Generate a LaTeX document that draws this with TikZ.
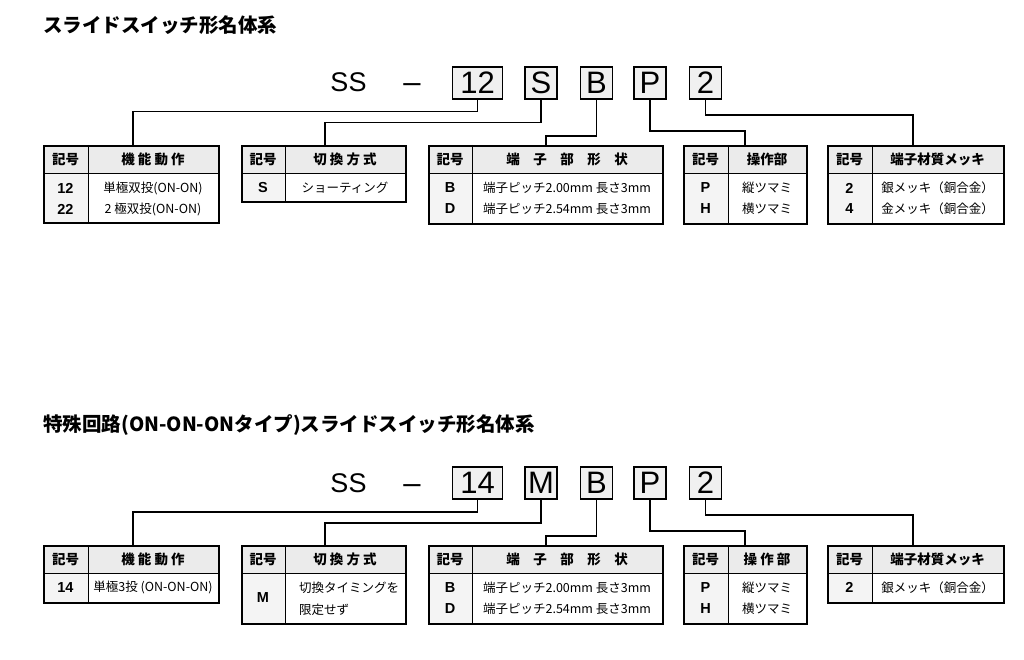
\documentclass[tikz,border=0pt]{standalone}
\usepackage{fontspec}
\setmainfont{Noto Sans CJK JP}
\newfontfamily\codefont{Liberation Sans}
\definecolor{hdgray}{HTML}{EBEBEB}
\definecolor{colgray}{HTML}{F4F4F4}
\definecolor{boxgray}{HTML}{F0F0F0}
\tikzset{
  conn/.style={line width=1.8pt, line join=miter},
  inner/.style={line width=0.8pt},
  tabbox/.style={draw, line width=2pt, inner sep=0pt, anchor=north west},
  codebox/.style={draw, line width=1.8pt, fill=boxgray, inner sep=0pt, minimum height=32pt, font=\codefont\fontsize{31}{31}\selectfont},
  codetext/.style={inner sep=0pt, anchor=base, font=\codefont\fontsize{27}{27}\selectfont},
  dashtext/.style={inner sep=0pt, anchor=base, font=\codefont\fontsize{31}{31}\selectfont},
  title/.style={anchor=west, inner sep=0pt, font=\fontsize{19.5}{19.5}\selectfont\bfseries},
  hd/.style={inner sep=0pt, font=\fontsize{13.5}{13.5}\selectfont\bfseries},
  key/.style={inner sep=0pt, font=\codefont\fontsize{14.5}{14.5}\selectfont\bfseries},
  body/.style={inner sep=0pt, font=\fontsize{12.5}{12.5}\selectfont},
}
% #1 name, #2 x1, #3 x2, #4 divider x, #5 ytop, #6 yhead, #7 ybot
\newcommand\mytab[7]{%
  \fill[hdgray] (#2,#5) rectangle (#3,#6);
  \fill[colgray] (#2,#6) rectangle (#4,#7);
  \draw[inner] (#2,#6) -- (#3,#6);
  \draw[inner] (#4,#5) -- (#4,#7);
  \node[tabbox, minimum width={(#3-#2)*1pt}, minimum height={(#7-#5)*1pt}] (#1) at (#2,#5) {};
}
\begin{document}
\begin{tikzpicture}[x=1pt,y=-1pt]
\useasboundingbox[fill=white] (0,0) rectangle (1024,660);

%==================== TOP ====================
\node[title] (title1) at (43,25) {スライドスイッチ形名体系};

\node[codetext] (ss1) at (348.5,92) {SS};
\node[dashtext] (dash1) at (412,93) {–};
\node[codebox, minimum width=50pt] (c1a) at (477.5,83) {12};
\node[codebox, minimum width=32pt] (c1b) at (541,83) {S};
\node[codebox, minimum width=32pt] (c1c) at (596.5,83) {B};
\node[codebox, minimum width=32pt] (c1d) at (650,83) {P};
\node[codebox, minimum width=32pt] (c1e) at (705.5,83) {2};

\mytab{t1a}{43}{218}{88}{145}{173}{222.5}
\mytab{t1b}{241}{405}{285}{145}{173}{201.5}
\mytab{t1c}{428}{662}{472}{145}{173}{223}
\mytab{t1d}{683}{806}{728}{145}{173}{223}
\mytab{t1e}{827}{1003}{872}{145}{173}{223}

\draw[conn] (c1a.south) -- ++(0,11.7) -| ([xshift=90pt]t1a.north west);
\draw[conn] (c1b.south) -- ++(0,22.7) -| ([xshift=84pt]t1b.north west);
\draw[conn] (c1c.south) -- ++(0,36) -| ([xshift=118pt]t1c.north west);
\draw[conn] (c1d.south) -- ++(0,31) -| ([xshift=62pt]t1d.north west);
\draw[conn] (c1e.south) -- ++(0,15) -| ([xshift=86pt]t1e.north west);

% table 1
\node[hd] (h1a1) at (65.5,159.5) {記号};
\node[hd] (h1a2) at (153,159.5) {機 能 動 作};
\node[key] (k1a1) at (65.5,188) {12};
\node[key] (k1a2) at (65.5,209) {22};
\node[body] (b1a1) at (153,188) {単極双投(ON-ON)};
\node[body] (b1a2) at (153,209) {2 極双投(ON-ON)};
% table 2
\node[hd] (h1b1) at (263,159.5) {記号};
\node[hd] (h1b2) at (345,159.5) {切 換 方 式};
\node[key] (k1b1) at (263,187.5) {S};
\node[body] (b1b1) at (345,187.5) {ショーティング};
% table 3
\node[hd] (h1c1) at (450,159.5) {記号};
\node[hd] (h1c2) at (567,159.5) {端\hspace{1em}子\hspace{1em}部\hspace{1em}形\hspace{1em}状};
\node[key] (k1c1) at (450,188) {B};
\node[key] (k1c2) at (450,209) {D};
\node[body] (b1c1) at (567,188) {端子ピッチ2.00mm 長さ3mm};
\node[body] (b1c2) at (567,209) {端子ピッチ2.54mm 長さ3mm};
% table 4
\node[hd] (h1d1) at (705.5,159.5) {記号};
\node[hd] (h1d2) at (767,159.5) {操作部};
\node[key] (k1d1) at (705.5,188) {P};
\node[key] (k1d2) at (705.5,209) {H};
\node[body] (b1d1) at (767,188) {縦ツマミ};
\node[body] (b1d2) at (767,209) {横ツマミ};
% table 5
\node[hd] (h1e1) at (849.5,159.5) {記号};
\node[hd] (h1e2) at (937.5,159.5) {端子材質メッキ};
\node[key] (k1e1) at (849.5,188) {2};
\node[key] (k1e2) at (849.5,209) {4};
\node[body] (b1e1) at (937.5,188) {銀メッキ（銅合金）};
\node[body] (b1e2) at (937.5,209) {金メッキ（銅合金）};

%==================== BOTTOM ====================
\node[title] (title2) at (43,425) {特殊回路(ON-ON-ONタイプ)スライドスイッチ形名体系};

\node[codetext] (ss2) at (348.5,492) {SS};
\node[dashtext] (dash2) at (412,493) {–};
\node[codebox, minimum width=50pt] (c2a) at (477.5,483) {14};
\node[codebox, minimum width=32pt] (c2b) at (541,483) {M};
\node[codebox, minimum width=32pt] (c2c) at (596.5,483) {B};
\node[codebox, minimum width=32pt] (c2d) at (650,483) {P};
\node[codebox, minimum width=32pt] (c2e) at (705.5,483) {2};

\mytab{t2a}{43}{218}{88}{545}{573}{601.5}
\mytab{t2b}{241}{405}{285}{545}{573}{623}
\mytab{t2c}{428}{662}{472}{545}{573}{623}
\mytab{t2d}{683}{806}{728}{545}{573}{623}
\mytab{t2e}{827}{1003}{872}{545}{573}{601.5}

\draw[conn] (c2a.south) -- ++(0,11.7) -| ([xshift=90pt]t2a.north west);
\draw[conn] (c2b.south) -- ++(0,22.7) -| ([xshift=84pt]t2b.north west);
\draw[conn] (c2c.south) -- ++(0,36) -| ([xshift=118pt]t2c.north west);
\draw[conn] (c2d.south) -- ++(0,31) -| ([xshift=62pt]t2d.north west);
\draw[conn] (c2e.south) -- ++(0,15) -| ([xshift=86pt]t2e.north west);

% table 1
\node[hd] (h2a1) at (65.5,559.5) {記号};
\node[hd] (h2a2) at (153,559.5) {機 能 動 作};
\node[key] (k2a1) at (65.5,587.5) {14};
\node[body] (b2a1) at (153,587.5) {単極3投 (ON-ON-ON)};
% table 2
\node[hd] (h2b1) at (263,559.5) {記号};
\node[hd] (h2b2) at (345,559.5) {切 換 方 式};
\node[key] (k2b1) at (263,598) {M};
\node[body, anchor=west] (b2b1) at (299,588) {切換タイミングを};
\node[body, anchor=west] (b2b2) at (299,610) {限定せず};
% table 3
\node[hd] (h2c1) at (450,559.5) {記号};
\node[hd] (h2c2) at (567,559.5) {端\hspace{1em}子\hspace{1em}部\hspace{1em}形\hspace{1em}状};
\node[key] (k2c1) at (450,588) {B};
\node[key] (k2c2) at (450,609) {D};
\node[body] (b2c1) at (567,588) {端子ピッチ2.00mm 長さ3mm};
\node[body] (b2c2) at (567,609) {端子ピッチ2.54mm 長さ3mm};
% table 4
\node[hd] (h2d1) at (705.5,559.5) {記号};
\node[hd] (h2d2) at (767,559.5) {操 作 部};
\node[key] (k2d1) at (705.5,588) {P};
\node[key] (k2d2) at (705.5,609) {H};
\node[body] (b2d1) at (767,588) {縦ツマミ};
\node[body] (b2d2) at (767,609) {横ツマミ};
% table 5
\node[hd] (h2e1) at (849.5,559.5) {記号};
\node[hd] (h2e2) at (937.5,559.5) {端子材質メッキ};
\node[key] (k2e1) at (849.5,587.5) {2};
\node[body] (b2e1) at (937.5,587.5) {銀メッキ（銅合金）};
\end{tikzpicture}
\end{document}
